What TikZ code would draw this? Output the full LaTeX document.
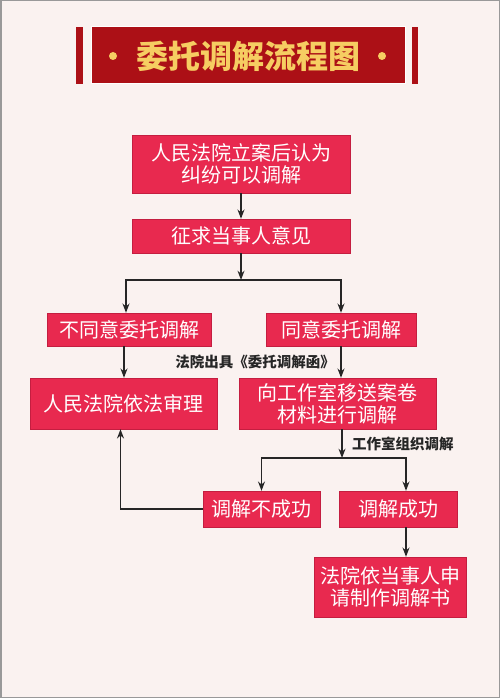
\documentclass[tikz,border=0pt]{standalone}
\usepackage{fontspec}
\setmainfont{Noto Sans CJK SC}
\usepackage{tikz}
\usetikzlibrary{positioning, arrows.meta}
\definecolor{boxred}{HTML}{E8294F}
\definecolor{boxedge}{HTML}{C41E40}
\definecolor{bannerred}{HTML}{AC1016}
\definecolor{gold}{HTML}{F6CD62}
\definecolor{paper}{HTML}{FAF2F0}

\begin{document}
\begin{tikzpicture}[x=1pt, y=-1pt, >=Stealth,
    step box/.style={draw=boxedge, fill=boxred, text=white, align=center, inner sep=0pt, font=\fontsize{20}{22}\selectfont},
    note/.style={font=\bfseries\fontsize{14.5}{16}\selectfont, text=black!85},
    link/.style={->, line width=1.4pt, black!85}]

        % page
        \useasboundingbox (0,0) rectangle (500,698);
        \draw[fill=paper, draw=black!40, line width=1.5pt] (0.75,0.75) rectangle (499.25,697.25);

        % title banner
        \fill[bannerred] (76,27) rectangle (83,84);
        \fill[bannerred] (412,27) rectangle (418,84);
        \draw[fill=bannerred, draw=white, line width=1pt] (91,27) rectangle (405,84);
        \fill[gold] (113,56) circle (4);
        \fill[gold] (382,56) circle (4);
        \node[text=gold, font=\bfseries\fontsize{32}{34}\selectfont] (title) at (248,56) {委托调解流程图};

        % steps
        \node[step box, minimum width=218, minimum height=58] (apply) at (241,164) {人民法院立案后认为\\纠纷可以调解};
        \node[step box, minimum width=218, minimum height=34] (consult) at (241,236) {征求当事人意见};
        \node[step box, minimum width=164, minimum height=33] (refuse) at (129,329.5) {不同意委托调解};
        \node[step box, minimum width=150, minimum height=33] (agree) at (341,329.5) {同意委托调解};
        \node[step box, minimum width=187, minimum height=51] (trial) at (123.5,403.5) {人民法院依法审理};
        \node[step box, minimum width=197, minimum height=51] (transfer) at (337.5,403.5) {向工作室移送案卷\\材料进行调解};
        \node[step box, minimum width=117, minimum height=36] (fail) at (261.5,509) {调解不成功};
        \node[step box, minimum width=118, minimum height=36] (success) at (398,509) {调解成功};
        \node[step box, minimum width=152, minimum height=60] (ruling) at (390,587) {法院依当事人申\\请制作调解书};

        % forks
        \coordinate (fork1) at (241,280);
        \coordinate (fork2) at (342,458);

        % arrows
        \draw[link] (apply) -- (consult);
        \draw[link] (consult) -- (fork1);
        \draw[link] (fork1) -| ([xshift=-3pt]refuse.north);
        \draw[link] (fork1) -| (agree.north);
        \draw[link] ([xshift=-5pt]refuse.south) -- ([xshift=-5pt]refuse.south |- trial.north);
        \draw[link] (agree.south) -- (agree.south |- transfer.north)
            node[note, midway, left=2pt] (letter) {法院出具《委托调解函》};
        \draw[link] (transfer.south -| fork2) -- (fork2)
            node[note, midway, right=6pt] (organize) {工作室组织调解};
        \draw[link] (fork2) -| (fail.north);
        \draw[link] (fork2) -| ([xshift=8pt]success.north);
        \draw[link] ([xshift=8pt]success.south) -- ([xshift=8pt]success.south |- ruling.north);
        \draw[link] (fail.west) -| ([xshift=-3pt]trial.south);

    \end{tikzpicture}
\end{document}
